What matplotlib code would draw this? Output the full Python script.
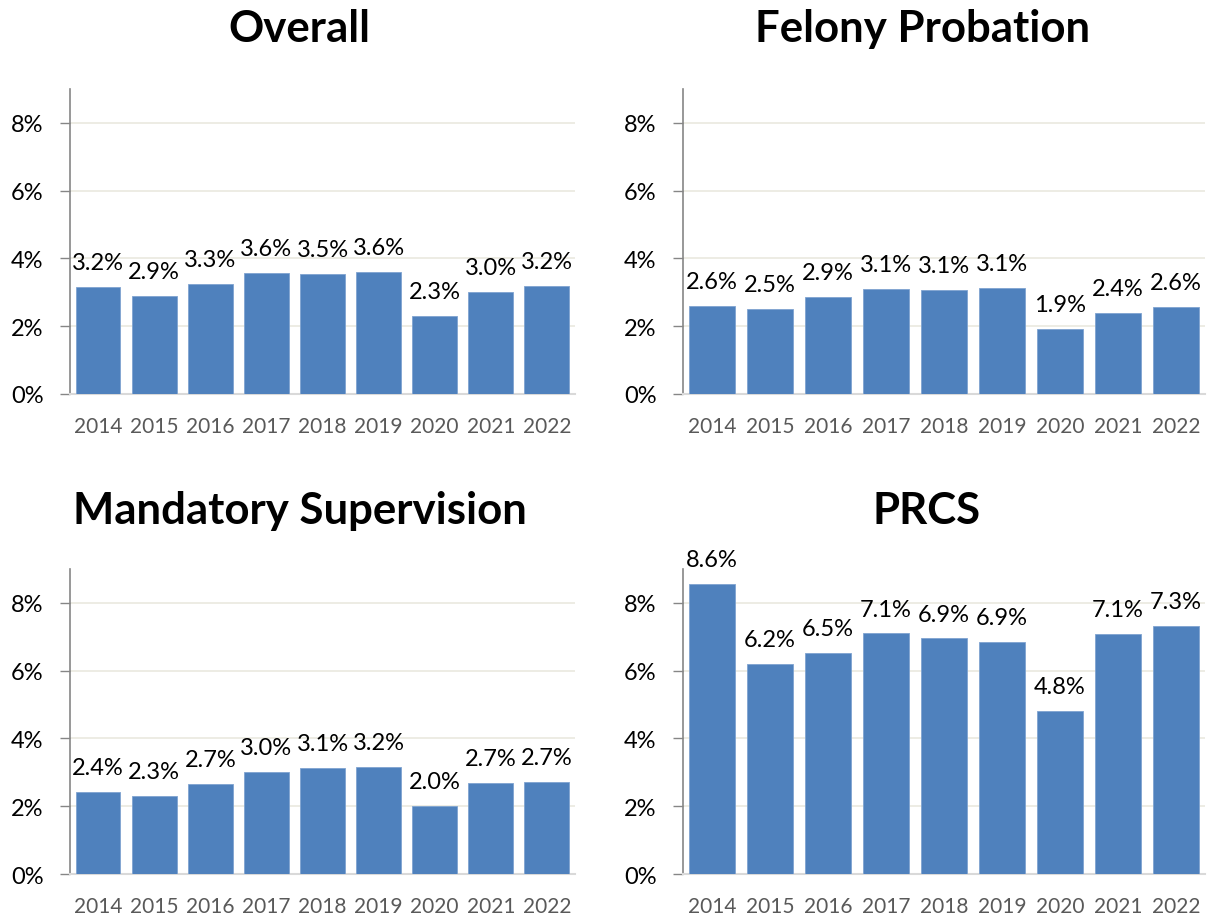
import matplotlib.pyplot as plt

plt.rcParams['font.family'] = ['Lato', 'DejaVu Sans']

# datos
anios = ['2014', '2015', '2016', '2017', '2018', '2019', '2020', '2021', '2022']

overall = [3.15, 2.9, 3.25, 3.57, 3.54, 3.6, 2.3, 3.0, 3.2]
overall_lbl = ['3.2%', '2.9%', '3.3%', '3.6%', '3.5%', '3.6%', '2.3%', '3.0%', '3.2%']

felony = [2.6, 2.5, 2.85, 3.1, 3.08, 3.13, 1.93, 2.38, 2.58]
felony_lbl = ['2.6%', '2.5%', '2.9%', '3.1%', '3.1%', '3.1%', '1.9%', '2.4%', '2.6%']

mandatory = [2.43, 2.3, 2.66, 3.02, 3.13, 3.17, 2.0, 2.68, 2.73]
mandatory_lbl = ['2.4%', '2.3%', '2.7%', '3.0%', '3.1%', '3.2%', '2.0%', '2.7%', '2.7%']

prcs = [8.57, 6.2, 6.52, 7.1, 6.95, 6.86, 4.8, 7.08, 7.32]
prcs_lbl = ['8.6%', '6.2%', '6.5%', '7.1%', '6.9%', '6.9%', '4.8%', '7.1%', '7.3%']

titulos = ['Overall', 'Felony Probation', 'Mandatory Supervision', 'PRCS']
series = [overall, felony, mandatory, prcs]
etiquetas = [overall_lbl, felony_lbl, mandatory_lbl, prcs_lbl]

fig = plt.figure(figsize=(12.19, 9.2), dpi=100)

# posiciones de cada panel [izq, abajo, ancho, alto]
posiciones = [
    [0.0574, 0.5707, 0.4143, 0.3315],
    [0.5603, 0.5707, 0.4282, 0.3315],
    [0.0574, 0.0489, 0.4143, 0.3315],
    [0.5603, 0.0489, 0.4282, 0.3315],
]
titulo_xy = [(0.246, 0.968), (0.757, 0.968), (0.246, 0.445), (0.76, 0.445)]

for pos, tit, txy, vals, lbls in zip(posiciones, titulos, titulo_xy, series, etiquetas):
    ax = fig.add_axes(pos)
    x = range(len(anios))
    barras = ax.bar(x, vals, width=0.8, color='#4F81BD', edgecolor='#7FA3D0',
                    linewidth=0.6, zorder=3)
    for b, l in zip(barras, lbls):
        ax.annotate(l, (b.get_x() + b.get_width() / 2, b.get_height()),
                    xytext=(0, 10), textcoords='offset points',
                    ha='center', va='bottom', fontsize=17, color='black')
    ax.set_xlim(-0.5, len(anios) - 0.5)
    ax.set_ylim(0, 9)
    ax.set_yticks([0, 2, 4, 6, 8])
    ax.set_yticklabels(['0%', '2%', '4%', '6%', '8%'], fontsize=17)
    ax.set_xticks(list(x))
    ax.set_xticklabels(anios, fontsize=15, color='#595959')
    ax.tick_params(axis='x', length=0, pad=16)
    ax.tick_params(axis='y', length=7, width=1, color='#868686', pad=12)
    ax.grid(axis='y', color='#ECEBE2', linewidth=1.3, zorder=0)
    ax.spines['top'].set_visible(False)
    ax.spines['right'].set_visible(False)
    ax.spines['left'].set_color('#868686')
    ax.spines['left'].set_linewidth(1.2)
    ax.spines['bottom'].set_color('#D9D9D9')
    ax.spines['bottom'].set_linewidth(1.5)
    fig.text(txy[0], txy[1], tit, ha='center', va='center', fontsize=31.5,
             fontweight='bold')

plt.savefig('out.png', dpi=100)
